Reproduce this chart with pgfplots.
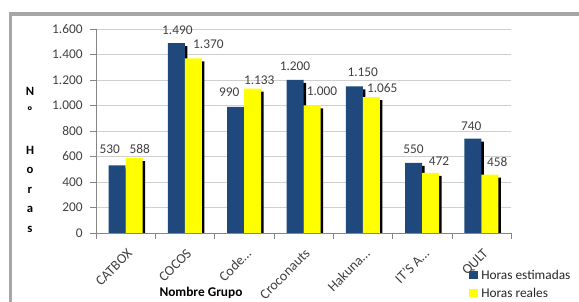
\documentclass[border=0pt]{standalone}
\usepackage{fontspec}
\setmainfont{Carlito}
\usepackage{pgfplots}
\usepackage{pgfplotstable}
\pgfplotsset{compat=1.18}
\definecolor{navy}{HTML}{1F497D}
\definecolor{ylw}{HTML}{FFFF00}
\definecolor{txt}{HTML}{404040}
\definecolor{framegray}{HTML}{A6A6A6}
\definecolor{axisgray}{HTML}{868686}
\definecolor{gridgray}{HTML}{D0D0D0}

\pgfplotstableread{
x est real dxe dye dxr dyr
0 530 588 -7.5 7 5.5 0
1 1490 1370 1 4 15 5
2 990 1133 -6.5 5 6.5 -0.5
3 1200 1000 0 5 10 5
4 1150 1065 8.5 5 11 0
5 550 472 0 5 8.5 3
6 740 458 -1.5 3.5 7.5 3
}\datatab

\begin{document}
\begin{tikzpicture}
\useasboundingbox (0,0) rectangle (434.25pt,226.5pt);
\begin{scope}
\clip (0,0) rectangle (434.25pt,226.5pt);
\draw[framegray, line width=2.6pt] (7.7pt,-5pt) -- (7.7pt,216pt) -- (440pt,216pt);
\end{scope}
\begin{axis}[
 at={(72pt,51.75pt)}, anchor=south west,
 scale only axis, width=311.25pt, height=153pt,
 xmin=-0.5, xmax=6.5, ymin=0, ymax=1600,
 axis lines*=left,
 axis line style={draw=axisgray},
 ytick={0,200,...,1600},
 xtick={-0.5,0.5,...,6.5}, xticklabels={},
 extra x ticks={0,1,2,3,4,5,6},
 extra x tick labels={{CATBOX},{COCOS},{Code…},{Croconauts},{Hakuna…},{IT'S A…},{QULT}},
 extra x tick style={major tick length=0pt, xticklabel style={rotate=45, anchor=north east, xshift=-4pt, yshift=-5pt, font=\fontsize{10.5}{12}\selectfont}},
 tick align=outside, major tick length=4.5pt,
 tick style={axisgray},
 ymajorgrids, grid style={gridgray},
 tick label style={font=\fontsize{10}{12}\selectfont, text=txt},
 yticklabel style={xshift=-2pt},
 /pgf/number format/assume math mode=true,
 /pgf/number format/1000 sep={.},
 ybar=0pt, bar width=12.75pt,
 nodes near coords,
 every node near coord/.append style={font=\fontsize{10}{12}\selectfont, text=txt, xshift=\dx*0.75pt, yshift=\dy*0.75pt},
 clip=true,
]
\addplot[fill=navy, draw=none,
  preaction={fill=black, transform canvas={xshift=1.9pt, yshift=-2.25pt}},
  visualization depends on={\thisrow{dxe} \as \dx},
  visualization depends on={\thisrow{dye} \as \dy}]
  table[x=x, y=est] {\datatab};
\addplot[fill=ylw, draw=none,
  preaction={fill=black, transform canvas={xshift=1.9pt, yshift=-2.25pt}},
  visualization depends on={\thisrow{dxr} \as \dx},
  visualization depends on={\thisrow{dyr} \as \dy}]
  table[x=x, y=real] {\datatab};
\end{axis}
% legend
\fill[navy] (351.75pt,16.9pt) rectangle (358.5pt,23.6pt);
\node[anchor=west, inner sep=0pt, font=\fontsize{10}{12}\selectfont, text=black!85] at (360.75pt,20.25pt) {Horas estimadas};
\fill[ylw] (351.75pt,3.4pt) rectangle (358.5pt,10.1pt);
\node[anchor=west, inner sep=0pt, font=\fontsize{10}{12}\selectfont, text=black!85] at (360.75pt,6.75pt) {Horas reales};
\node[font=\bfseries\fontsize{9.5}{14.6}\selectfont, align=center] at (22.5pt,106.5pt) {N\\º\\ \\H\\o\\r\\a\\s};
\node[font=\bfseries\fontsize{10}{12}\selectfont] at (150.75pt,6.75pt) {Nombre Grupo};
\end{tikzpicture}
\end{document}
